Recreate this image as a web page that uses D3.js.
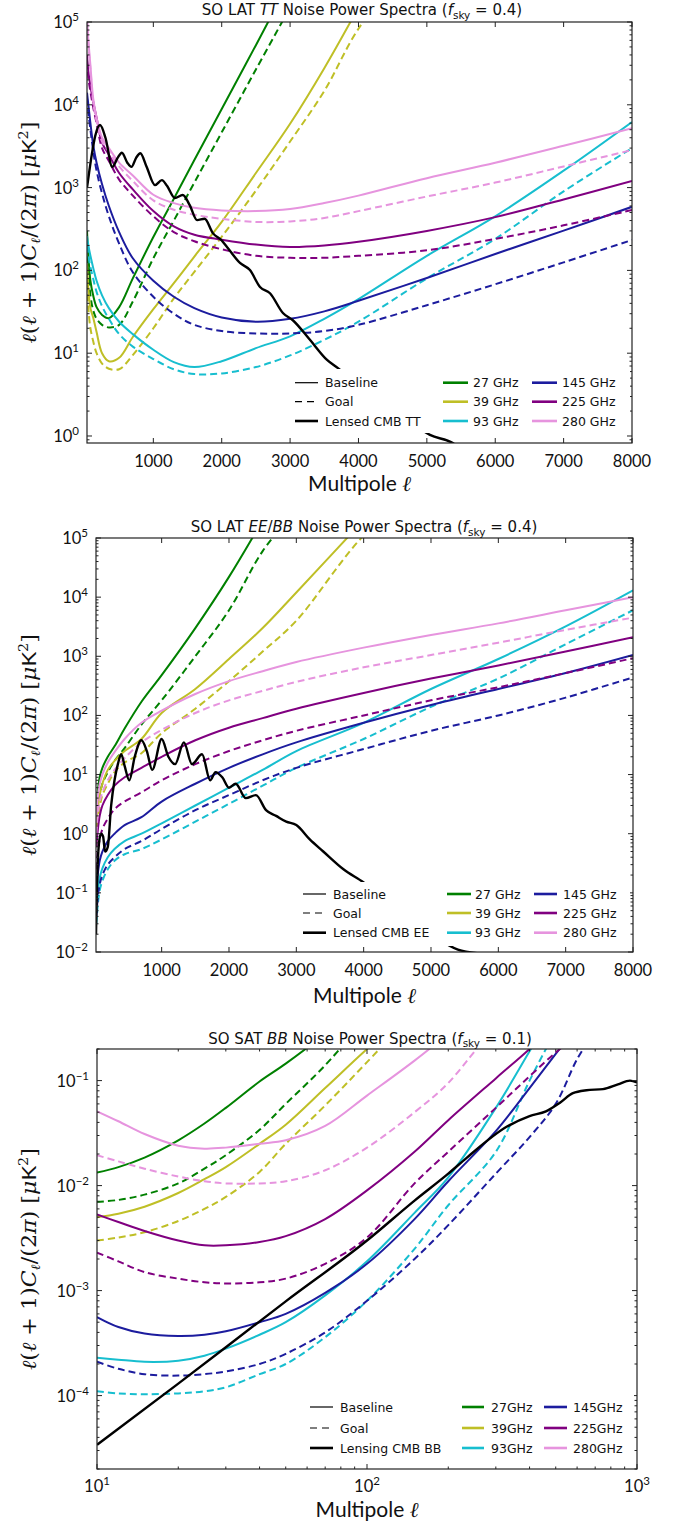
<!DOCTYPE html>
<html><head><meta charset="utf-8">
<script src="https://cdn.jsdelivr.net/npm/d3@7"></script>
<style>body{margin:0;background:#fff}</style>
</head><body><svg id="c" width="683" height="1524" xmlns="http://www.w3.org/2000/svg"></svg>
<script>
// ---------- Panel 1: SO LAT TT ----------
const ttEll = [30,50,80,120,170,250,350,500,700,1000,1300,1600,2000,2500,3000,3500,4000,5000,6000,7000,8000];
const tt27Base = [300,150,75,50,36,29,26.5,36,80,253,735,2150,8900,52500,3.2e5,null,null,null,null,null,null];
const tt27Goal = [200,100,50,33,26,22,20.5,22,42,140,400,1150,4650,26700,1.5e5,null,null,null,null,null,null];
const tt39Base = [120,60,35,27,18,10,8,8.8,15.7,34,70,147,385,1500,5900,27700,1.5e5,null,null,null,null];
const tt39Goal = [70,35,20,14,10,7.5,6.5,6.4,9.5,20,46,96,255,920,3600,14700,83000,1e6,null,null,null];
const tt93Base = [260,200,150,108,75,50,35,24,17,11,7.8,6.8,8.0,11.5,16,26,45,150,450,1600,6200];
const tt93Goal = [200,150,110,80,55,37,26,17,12,8.5,6.4,5.6,5.7,6.8,9.4,14.5,24,80,240,900,3000];
const tt145Base = [14000,10000,6000,3300,2000,1100,600,290,140,75,48,35,27,24,26,32,43,81,158,302,586];
const tt145Goal = [12000,8000,5000,2800,1600,850,450,210,95,48,30,22,18.5,17.3,17.3,18.5,22,38,68,125,233];
const tt225Base = [40000,25000,17000,11000,7000,3500,2500,1500,950,520,340,270,235,205,192,200,222,300,440,720,1200];
const tt225Goal = [34000,21000,14500,9400,6000,3000,2100,1250,800,450,290,225,180,150,142,142,150,175,240,350,536];
const tt280Base = [1.2e5,60000,30000,12000,7000,4000,3000,2000,1400,820,650,570,530,520,550,650,800,1300,2000,3200,5200];
const tt280Goal = [1.1e5,54000,27000,10800,6300,3600,2700,1800,1200,700,540,470,420,385,390,430,520,780,1150,1800,2840];
const ttCmbEll = [30,60,100,150,220,300,400,480,540,620,680,750,810,900,1025,1125,1200,1315,1430,1530,1640,1750,1870,2000,2077,2267,2413,2560,2706,2895,3040,3290,3540,3700,4000,4500,5045,5380,5600];
const ttCmb = [1000,1500,2500,4200,5700,4000,1780,2300,2640,2000,1780,2300,2600,1800,1070,1230,1050,750,815,620,405,420,282,230,192,123,101,63,53,30.6,25,14.5,8.3,6.6,4.3,2.2,1.03,0.82,0.6];

// ---------- Panel 2: SO LAT EE/BB ----------
const eeEll = [30,50,80,120,200,300,450,700,1000,1500,2000,2500,3000,4000,5000,6000,7000,8000];
const ee27Base = [2,5,9,13,20,30,60,170,480,3000,22000,2e5,null,null,null,null,null,null];
const ee27Goal = [1,2.5,4.5,7,11,17,28,70,180,1000,6000,6e4,3e5,null,null,null,null,null];
const ee39Base = [1,2.5,4.5,7,12,17,25,40,110,280,900,3000,12000,2e5,null,null,null,null];
const ee39Goal = [0.6,1.5,2.8,4.5,7,11,16,23,50,130,380,1200,4000,1.1e5,1e6,null,null,null];
const ee93Base = [0.05,0.1,0.18,0.26,0.4,0.55,0.75,1.0,1.5,3,6,12,25,75,280,900,3200,13000];
const ee93Goal = [0.03,0.06,0.11,0.16,0.25,0.35,0.45,0.55,0.8,1.6,3.2,6.5,13,40,140,420,1600,6000];
const ee145Base = [0.1,0.2,0.35,0.5,0.75,1.0,1.4,1.9,3.5,7,13,22,35,75,150,280,520,1050];
const ee145Goal = [0.04,0.08,0.14,0.2,0.3,0.4,0.55,0.75,1.2,2.5,4.5,8,13,27,55,100,200,440];
const ee225Base = [0.6,1.1,2,3,4.5,6.5,9,13,20,38,62,90,130,240,420,700,1200,2100];
const ee225Goal = [0.25,0.5,0.8,1.2,1.8,2.6,3.5,5,8,15,25,38,55,100,180,300,520,930];
const ee280Base = [2,4,7,10,16,24,40,75,120,230,380,560,800,1400,2300,3600,6000,10000];
const ee280Goal = [1,2,3.5,5,8,12,19,35,57,110,180,260,370,650,1050,1700,2800,4500];
const eeCmbEll = [25,35,50,70,100,130,160,200,250,300,350,400,450,520,600,700,780,860,1000,1100,1200,1330,1450,1600,1720,1800,1900,2000,2100,2250,2400,2550,2700,2850,3000,3200,3400,3700,4000,4500,5000,5400,5700];
const eeCmb = [0.02,0.08,0.3,0.7,1.0,0.9,0.5,0.6,3,8,15,22,14,8,20,38,25,12,40,20,15,35,15,22,8,11,9,6,7,4,4.5,2.5,2.0,1.6,1.4,0.8,0.5,0.25,0.15,0.05,0.02,0.011,0.0095];

// ---------- Panel 3: SO SAT BB ----------
const bbEll = [10,12,15,20,25,30,40,50,70,100,150,200,300,400,500,600,700,850,1000];
const bb27Base = [0.0133,0.015,0.0185,0.027,0.039,0.055,0.098,0.145,0.28,0.6,null,null,null,null,null,null,null,null,null];
const bb27Goal = [0.007,0.0073,0.0082,0.0105,0.0145,0.0195,0.034,0.06,0.14,0.4,null,null,null,null,null,null,null,null,null];
const bb39Base = [0.005,0.0054,0.0063,0.0085,0.0115,0.015,0.025,0.038,0.085,0.2,0.5,null,null,null,null,null,null,null,null];
const bb39Goal = [0.003,0.0032,0.0036,0.0046,0.006,0.0078,0.0135,0.025,0.058,0.15,0.45,null,null,null,null,null,null,null,null];
const bb93Base = [0.00023,0.00022,0.00021,0.000215,0.00024,0.00028,0.00038,0.0005,0.0009,0.0019,0.0055,0.012,0.055,0.19,0.5,null,null,null,null];
const bb93Goal = [0.00011,0.000105,0.000103,0.000105,0.00011,0.00012,0.00016,0.0002,0.00036,0.0008,0.0025,0.0065,0.021,0.1,0.3,null,null,null,null];
const bb145Base = [0.00056,0.00045,0.00039,0.00037,0.00038,0.00041,0.0005,0.0006,0.00095,0.0018,0.0048,0.011,0.033,0.085,0.18,0.33,null,null,null];
const bb145Goal = [0.00021,0.00018,0.00016,0.000155,0.00016,0.00017,0.0002,0.00025,0.0004,0.0008,0.002,0.0042,0.013,0.029,0.06,0.16,0.3,null,null];
const bb225Base = [0.0053,0.0045,0.0037,0.003,0.0027,0.0027,0.0029,0.0033,0.0048,0.009,0.021,0.042,0.105,0.2,0.35,null,null,null,null];
const bb225Goal = [0.0023,0.0019,0.0015,0.0013,0.0012,0.00117,0.0012,0.0013,0.0018,0.0032,0.0105,0.021,0.055,0.11,0.185,0.27,null,null,null];
const bb280Base = [0.051,0.041,0.031,0.024,0.0225,0.023,0.025,0.027,0.037,0.072,0.155,0.28,null,null,null,null,null,null,null];
const bb280Goal = [0.0195,0.017,0.0145,0.0122,0.011,0.0105,0.0105,0.011,0.014,0.023,0.05,0.095,0.35,null,null,null,null,null,null];
const bbCmbEll = [10,20,50,100,150,200,234,330,400,460,520,579,650,748,850,942,1000];
const bbCmb = [3.4e-5,1.3e-4,7.9e-4,0.003,0.0072,0.013,0.0184,0.0365,0.046,0.051,0.062,0.076,0.081,0.083,0.092,0.1,0.096];

// ---------- shared labels ----------
const freqs = ["27","39","93","145","225","280"];
const freqLabelsLAT = ["27 GHz","39 GHz","93 GHz","145 GHz","225 GHz","280 GHz"];
const freqLabelsSAT = ["27GHz","39GHz","93GHz","145GHz","225GHz","280GHz"];
const linTicks = [1000,2000,3000,4000,5000,6000,7000,8000];
const colors = {"27":"#008000","39":"#bfbf26","93":"#17becf","145":"#1c1c9e","225":"#800080","280":"#e694de"};

const FONT = "Lato, 'DejaVu Sans', sans-serif";
const FONT2 = "'DejaVu Sans', sans-serif";
const svg = d3.select("#c");
svg.append("rect").attr("width",683).attr("height",1524).attr("fill","#fff");

function drawPanel(o, idx){
  const g = svg.append("g");
  const x = (o.xlog ? d3.scaleLog() : d3.scaleLinear()).domain(o.xd).range([o.L, o.R]);
  const y = d3.scaleLog().domain(o.yd).range([o.B, o.T]);
  const cid = "clip"+idx;
  svg.append("clipPath").attr("id",cid).append("rect")
    .attr("x",o.L).attr("y",o.T).attr("width",o.R-o.L).attr("height",o.B-o.T);
  const plot = g.append("g").attr("clip-path","url(#"+cid+")");
  const smooth = d3.line().defined(d=>d[1]!=null).x(d=>x(d[0])).y(d=>y(d[1])).curve(d3.curveCatmullRom.alpha(0.5));
  const mono = d3.line().defined(d=>d[1]!=null).x(d=>x(d[0])).y(d=>y(d[1])).curve(d3.curveMonotoneX);
  o.series.forEach(s=>{
    const pts = s.ell.map((e,i)=>[e,s.v[i]]);
    plot.append("path").attr("d",(s.cmb?mono:smooth)(pts)).attr("fill","none")
      .attr("stroke",s.c).attr("stroke-width",s.w||2)
      .attr("stroke-dasharray",s.dash?"7,4":null);
  });
  g.append("rect").attr("x",o.L).attr("y",o.T).attr("width",o.R-o.L).attr("height",o.B-o.T)
    .attr("fill","none").attr("stroke","#222").attr("stroke-width",1.2);
  if(!o.xlog){
    linTicks.forEach(t=>{
      const px = x(t);
      if(px> o.R+0.5) return;
      g.append("line").attr("x1",px).attr("x2",px).attr("y1",o.B).attr("y2",o.B-5).attr("stroke","#222");
      g.append("line").attr("x1",px).attr("x2",px).attr("y1",o.T).attr("y2",o.T+5).attr("stroke","#222");
      g.append("text").attr("x",px).attr("y",o.B+24).attr("text-anchor","middle")
        .attr("font-family",FONT).attr("font-size",16.5).attr("fill","#111").text(t);
    });
  } else {
    const lo = Math.log10(o.xd[0]), hi = Math.log10(o.xd[1]);
    for(let p=lo;p<=hi;p++){
      for(let k=1;k<10;k++){
        const v = k*Math.pow(10,p); if(v>o.xd[1]) break;
        const px = x(v), len = k===1?5:2.5;
        g.append("line").attr("x1",px).attr("x2",px).attr("y1",o.B).attr("y2",o.B-len).attr("stroke","#222");
        g.append("line").attr("x1",px).attr("x2",px).attr("y1",o.T).attr("y2",o.T+len).attr("stroke","#222");
      }
      const t = g.append("text").attr("x",x(Math.pow(10,p))).attr("y",o.B+23).attr("text-anchor","middle")
        .attr("font-family",FONT).attr("font-size",16.5).attr("fill","#111");
      t.append("tspan").text("10");
      t.append("tspan").attr("dy",-7).attr("font-size",11.5).text(String(p).replace("-","\u2212"));
    }
  }
  const ylo = Math.floor(Math.log10(o.yd[0])), yhi = Math.ceil(Math.log10(o.yd[1]));
  for(let p=ylo;p<=yhi;p++){
    for(let k=1;k<10;k++){
      const v = k*Math.pow(10,p);
      if(v<o.yd[0]*0.999 || v>o.yd[1]*1.001) continue;
      const py = y(v), len = k===1?5:2.5;
      g.append("line").attr("y1",py).attr("y2",py).attr("x1",o.L).attr("x2",o.L+len).attr("stroke","#222");
      g.append("line").attr("y1",py).attr("y2",py).attr("x1",o.R).attr("x2",o.R-len).attr("stroke","#222");
      if(k===1){
        const t = g.append("text").attr("x",o.L-8).attr("y",py+6).attr("text-anchor","end")
          .attr("font-family",FONT).attr("font-size",16.5).attr("fill","#111");
        t.append("tspan").text("10");
        t.append("tspan").attr("dy",-7).attr("font-size",11.5).text(String(p).replace("-","\u2212"));
      }
    }
  }
  const tt = g.append("text").attr("x",o.titleX).attr("y",o.titleY).attr("text-anchor","middle")
    .attr("font-family",FONT2).attr("font-size",15).attr("fill","#111");
  o.title.forEach(part=>{
    const ts = tt.append("tspan").text(part.t);
    if(part.i) ts.attr("font-style","italic");
    if(part.sub) ts.attr("font-size",10.5).attr("dy",3.5);
    if(part.up) ts.attr("dy",-3.5);
  });
  const xl = g.append("text").attr("x",(o.L+o.R)/2).attr("y",o.xlabY).attr("text-anchor","middle")
    .attr("font-family",FONT).attr("font-size",21).attr("fill","#111");
  xl.append("tspan").text("Multipole ");
  xl.append("tspan").attr("font-family","'DejaVu Serif', serif").attr("font-style","italic").text("\u2113");
  const cy = (o.T+o.B)/2;
  const yl = g.append("text").attr("transform",`translate(36,${cy}) rotate(-90)`).attr("text-anchor","middle")
    .attr("font-family","'DejaVu Serif', serif").attr("font-size",20).attr("fill","#111")
    .attr("textLength",222).attr("lengthAdjust","spacingAndGlyphs");
  yl.append("tspan").attr("font-style","italic").text("\u2113");
  yl.append("tspan").text("(");
  yl.append("tspan").attr("font-style","italic").text("\u2113");
  yl.append("tspan").text(" + 1)");
  yl.append("tspan").attr("font-style","italic").text("C");
  yl.append("tspan").attr("font-style","italic").attr("font-size",13).attr("dy",4).text("\u2113");
  yl.append("tspan").attr("dy",-4).text("/(2");
  yl.append("tspan").attr("font-style","italic").text("\u03c0");
  yl.append("tspan").text(") [");
  yl.append("tspan").attr("font-style","italic").text("\u03bc");
  yl.append("tspan").attr("font-family",FONT).text("K");
  yl.append("tspan").attr("font-size",13).attr("dy",-8).text("2");
  yl.append("tspan").attr("dy",8).text("]");
  const lg = o.leg;
  g.append("rect").attr("x",lg.box[0]).attr("y",lg.box[1]).attr("width",lg.box[2]).attr("height",lg.box[3]).attr("fill","#fff");
  const rows = lg.rows;
  const styleEntries = [
    {lab:"Baseline", w:1.2, dash:null},
    {lab:"Goal", w:1.2, dash:"7,5"},
    {lab:lg.cmbLabel, w:2.6, dash:null}];
  styleEntries.forEach((e,i)=>{
    g.append("line").attr("x1",lg.c1[0]).attr("x2",lg.c1[1]).attr("y1",rows[i]).attr("y2",rows[i])
      .attr("stroke","#000").attr("stroke-width",e.w).attr("stroke-dasharray",e.dash);
    g.append("text").attr("x",lg.c1[2]).attr("y",rows[i]+4.5).attr("font-family",FONT2).attr("font-size",12.5).attr("fill","#111").text(e.lab);
  });
  freqs.forEach((f,i)=>{
    const col = i<3?lg.c2:lg.c3, r = rows[i%3];
    g.append("line").attr("x1",col[0]).attr("x2",col[1]).attr("y1",r).attr("y2",r)
      .attr("stroke",colors[f]).attr("stroke-width",2.6);
    g.append("text").attr("x",col[2]).attr("y",r+4.5).attr("font-family",FONT2).attr("font-size",12.5).attr("fill","#111").text(lg.flabels[i]);
  });
}

function mk(ell, pairs, cmbEll, cmb){
  const out = [];
  freqs.forEach((f,i)=>{
    out.push({ell:ell, v:pairs[i][0], c:colors[f]});
    out.push({ell:ell, v:pairs[i][1], c:colors[f], dash:true});
  });
  out.push({ell:cmbEll, v:cmb, c:"#000", w:2.4, cmb:true});
  return out;
}

drawPanel({L:87,R:632,T:22,B:443,xd:[30,8000],yd:[0.823,1e5],titleX:362,titleY:15,xlabY:491,
  title:[{t:"SO LAT "},{t:"TT",i:true},{t:" Noise Power Spectra ("},{t:"f",i:true},{t:"sky",sub:true},{t:" = 0.4)",up:true}],
  series:mk(ttEll,[[tt27Base,tt27Goal],[tt39Base,tt39Goal],[tt93Base,tt93Goal],[tt145Base,tt145Goal],[tt225Base,tt225Goal],[tt280Base,tt280Goal]],ttCmbEll,ttCmb),
  leg:{box:[288,369,342,64],rows:[382.7,401.7,421],c1:[295,318,325],c2:[443,468,473],c3:[532,557,562],cmbLabel:"Lensed CMB TT",flabels:freqLabelsLAT}},0);

drawPanel({L:96,R:633,T:538,B:952,xd:[25,8000],yd:[0.01,1e5],titleX:364,titleY:532,xlabY:1003,
  title:[{t:"SO LAT "},{t:"EE",i:true},{t:"/"},{t:"BB",i:true},{t:" Noise Power Spectra ("},{t:"f",i:true},{t:"sky",sub:true},{t:" = 0.4)",up:true}],
  series:mk(eeEll,[[ee27Base,ee27Goal],[ee39Base,ee39Goal],[ee93Base,ee93Goal],[ee145Base,ee145Goal],[ee225Base,ee225Goal],[ee280Base,ee280Goal]],eeCmbEll,eeCmb),
  leg:{box:[296,882,334,64],rows:[894,913,932.7],c1:[303,326,333],c2:[447,471,475],c3:[534,557,563],cmbLabel:"Lensed CMB EE",flabels:freqLabelsLAT}},1);

drawPanel({L:97,R:637,T:1049,B:1469,xlog:true,xd:[10,1000],yd:[2e-5,0.2],titleX:370,titleY:1043.5,xlabY:1517,
  title:[{t:"SO SAT "},{t:"BB",i:true},{t:" Noise Power Spectra ("},{t:"f",i:true},{t:"sky",sub:true},{t:" = 0.1)",up:true}],
  series:mk(bbEll,[[bb27Base,bb27Goal],[bb39Base,bb39Goal],[bb93Base,bb93Goal],[bb145Base,bb145Goal],[bb225Base,bb225Goal],[bb280Base,bb280Goal]],bbCmbEll,bbCmb),
  leg:{box:[302,1394,332,66],rows:[1407,1428,1448],c1:[310,333,340],c2:[462,484,491],c3:[544,567,573],cmbLabel:"Lensing CMB BB",flabels:freqLabelsSAT}},2);
</script></body></html>
